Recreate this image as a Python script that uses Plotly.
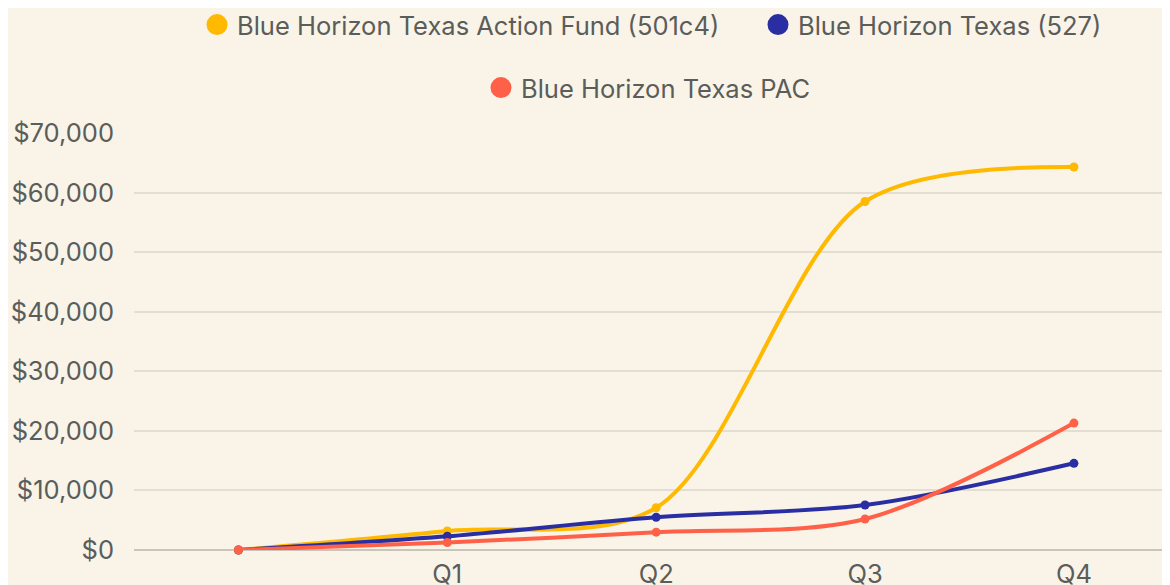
import plotly.graph_objects as go

x_labels = ["", "Q1", "Q2", "Q3", "Q4"]
x_idx = list(range(len(x_labels)))

action_fund = [0, 3200, 7100, 58500, 64300]
texas_527 = [0, 2300, 5500, 7550, 14550]
texas_pac = [0, 1250, 3000, 5200, 21300]

names = ["Blue Horizon Texas Action Fund (501c4)", "Blue Horizon Texas (527)", "Blue Horizon Texas PAC"]
colors = ["#FFB900", "#2A2EA3", "#FF6148"]
series = [action_fund, texas_527, texas_pac]

BG = "#F9F3E8"
TXT = "#5A5D5A"
FONT = "Inter"
FS = 25.5

fig = go.Figure()
for i, (n, c, s) in enumerate(zip(names, colors, series)):
    fig.add_trace(go.Scatter(
        x=x_idx, y=s, mode="lines+markers", name=n,
        line=dict(color=c, width=4, shape="spline", smoothing=0.9),
        marker=dict(color=c, size=9),
        cliponaxis=False, showlegend=False,
    ))

legend_names = ["legend", "legend2", "legend3"]
legend_pos = [(189, 17), (750, 17), (473, 80)]
for i, (n, c) in enumerate(zip(names, colors)):
    fig.add_trace(go.Scatter(
        x=[None], y=[None], mode="markers", name=n,
        marker=dict(color=c, size=16, line=dict(color=c, width=5)),
        legend=legend_names[i], showlegend=True,
    ))

layout_legends = {}
for ln, (lx, ly) in zip(legend_names, legend_pos):
    layout_legends[ln] = dict(
        xref="container", yref="container",
        x=lx / 1170, y=1 - ly / 585,
        xanchor="left", yanchor="middle",
        orientation="h", bgcolor="rgba(0,0,0,0)",
        font=dict(family=FONT, size=FS, color=TXT),
        itemclick=False,
    )

fig.update_layout(
    width=1170, height=585,
    paper_bgcolor=BG, plot_bgcolor=BG,
    margin=dict(l=126, r=8, t=125, b=43),
    font=dict(family=FONT, size=FS, color=TXT),
    **layout_legends,
    xaxis=dict(
        range=[-0.5, 4.46], tickmode="array", tickvals=x_idx[1:], ticktext=x_labels[1:],
        showgrid=False, zeroline=False, showline=False, ticks="",
        tickfont=dict(family=FONT, size=FS, color=TXT), automargin=False,
        ticklabelstandoff=6,
    ),
    yaxis=dict(
        range=[0, 70000], dtick=10000, tickprefix="$", tickformat=",.0f",
        showgrid=True, gridcolor="#E3DED1", gridwidth=1.5,
        zeroline=True, zerolinecolor="#C9C5BA", zerolinewidth=2,
        showline=False, ticks="", ticklabelstandoff=19,
        tickfont=dict(family=FONT, size=FS, color=TXT), automargin=False,
    ),
)

fig.write_html("out.html")
